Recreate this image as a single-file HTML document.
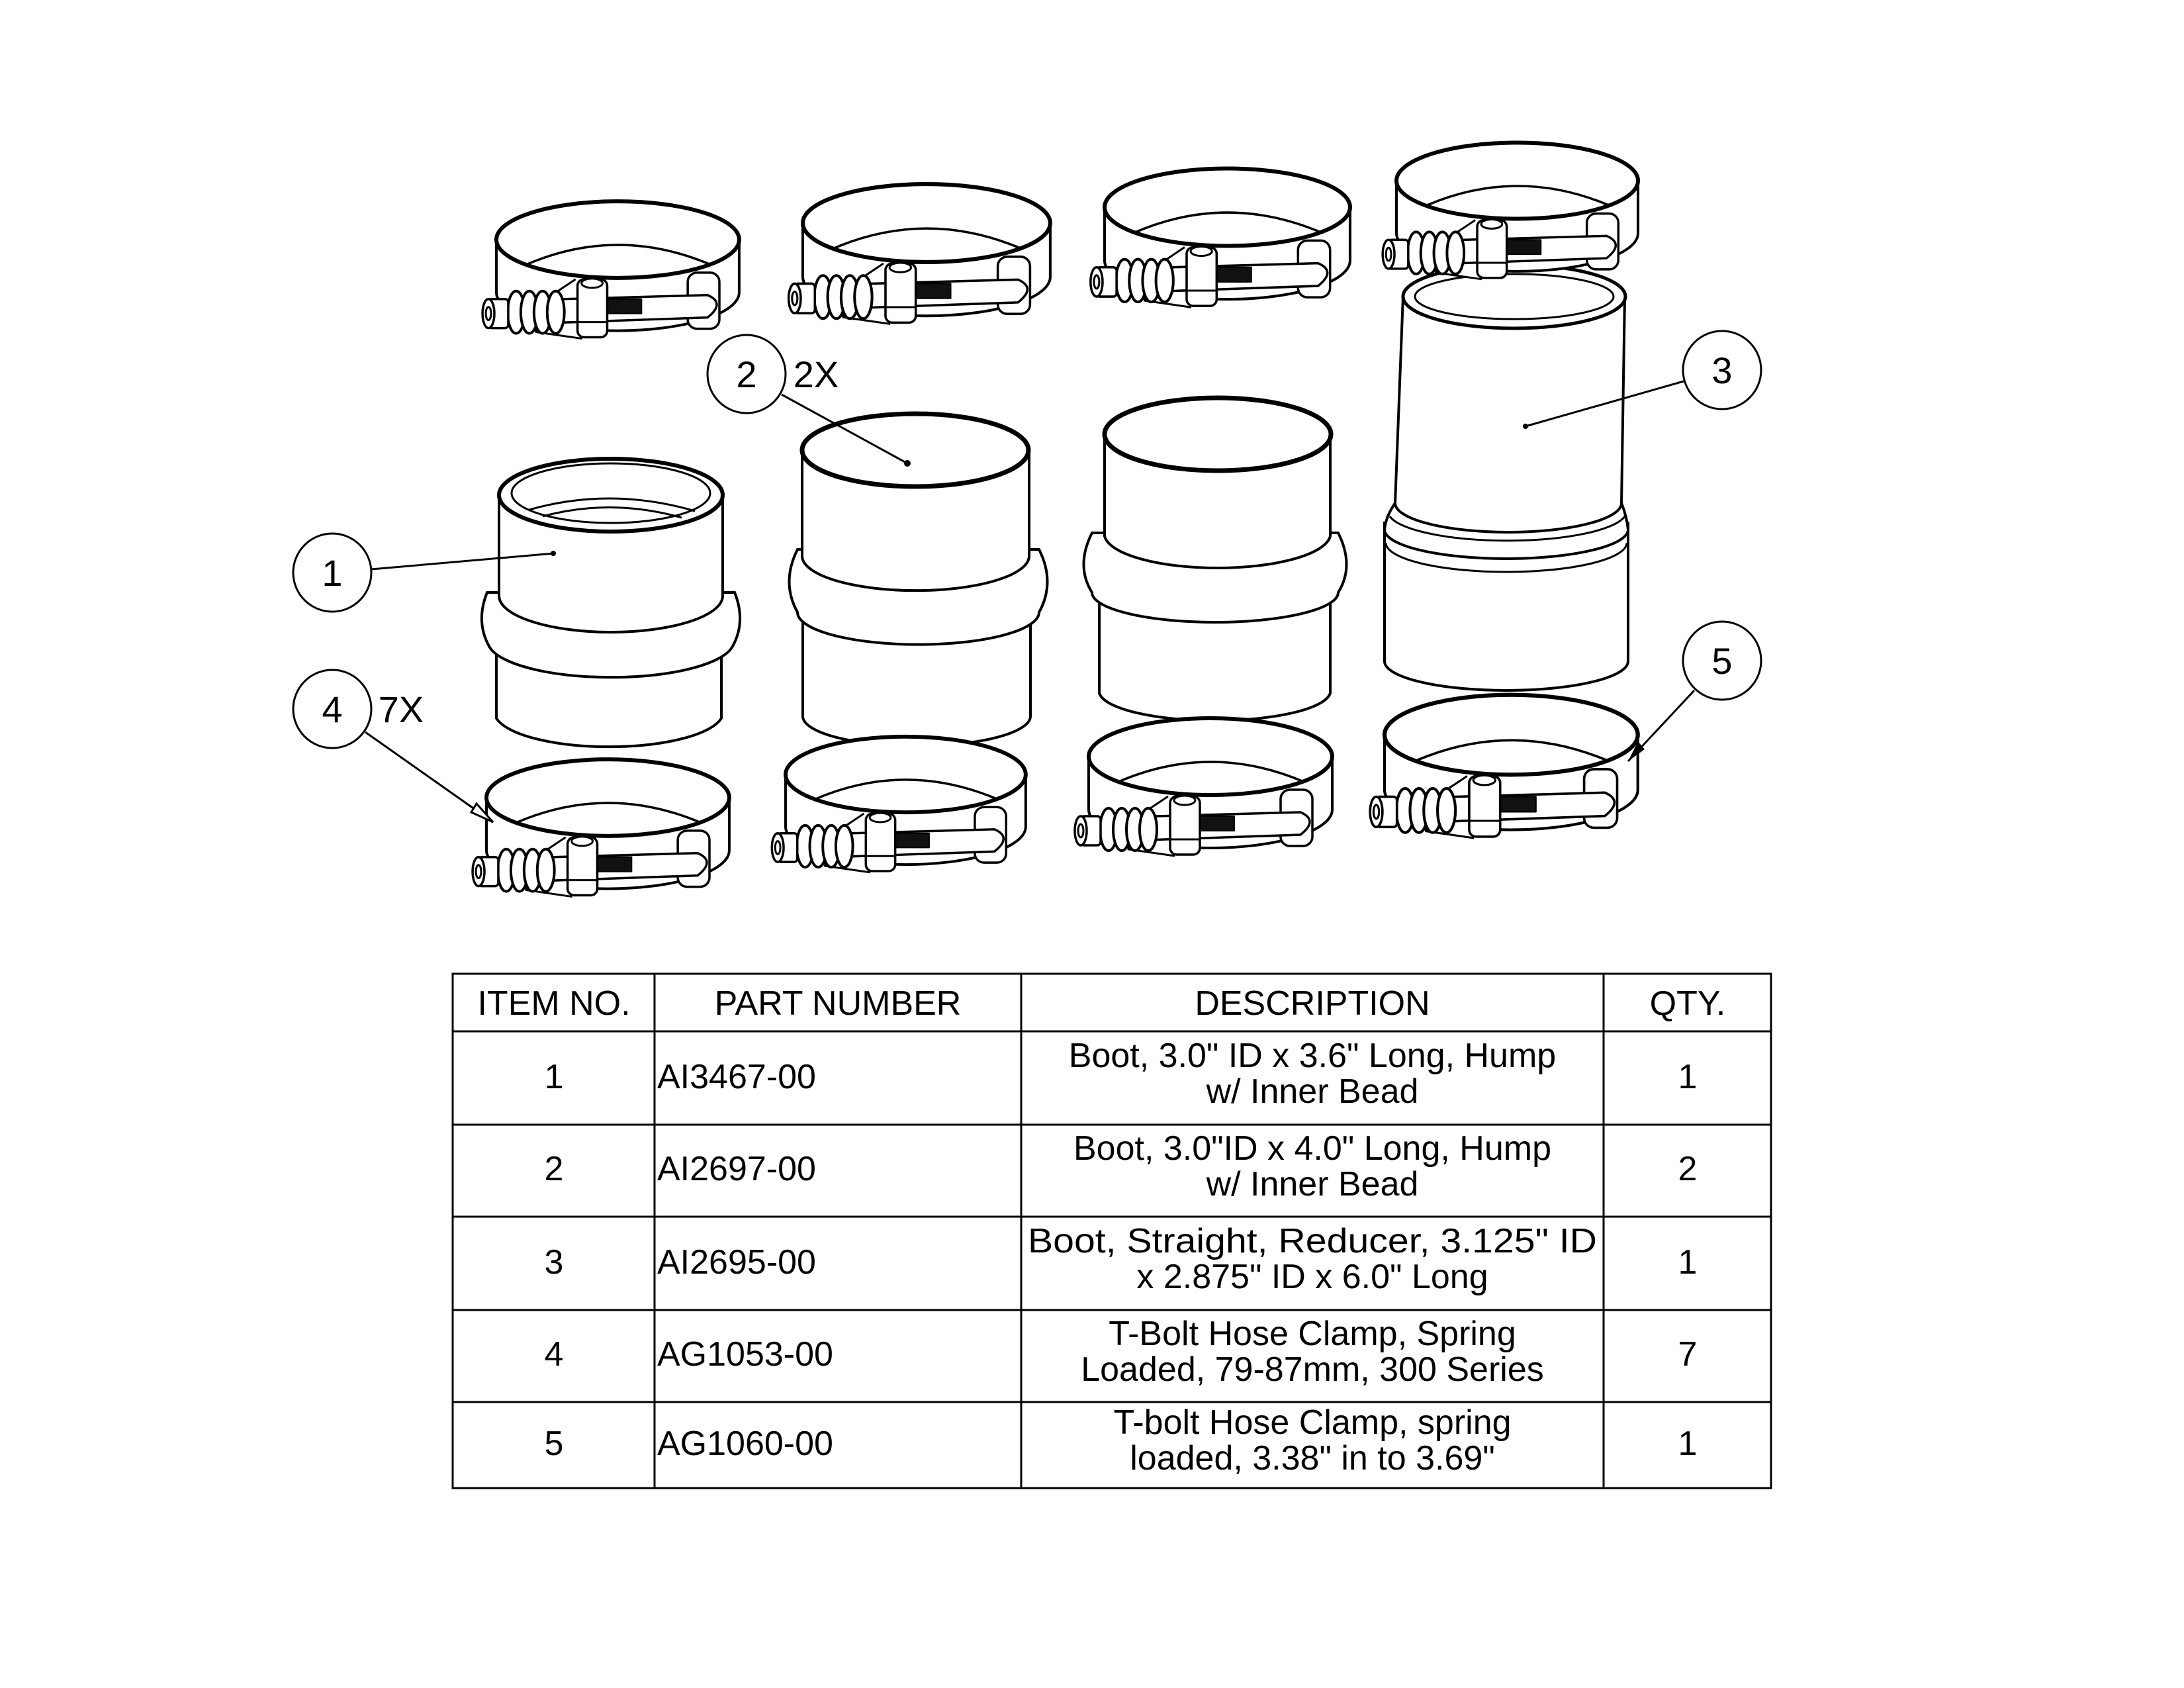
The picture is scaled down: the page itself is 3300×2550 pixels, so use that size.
<!DOCTYPE html>
<html><head><meta charset="utf-8"><style>
html,body{margin:0;padding:0;background:#fff}
svg{display:block}
text{font-family:"Liberation Sans",sans-serif;fill:#000}
</style></head><body>
<svg width="3300" height="2550" viewBox="0 0 3300 2550" xmlns="http://www.w3.org/2000/svg">
<defs>
<g id="clamp" stroke="#000" fill="#fff" stroke-linejoin="round">
  <path d="M0,0 L0,80 A184,58 0 0 0 368,80 L368,0 Z" stroke-width="4"/>
  <ellipse cx="184" cy="0" rx="184" ry="58" stroke-width="6"/>
  <path d="M45,38 Q184,-22 325,38" fill="none" stroke-width="3.5"/>
  <path d="M120,60 L60,100 L60,140 L130,150" stroke-width="3"/>
  <rect x="290" y="50" width="48" height="85" rx="14" stroke-width="3.5"/>
  <path d="M30,92 L320,84 Q348,96 320,118 L30,128 Z" stroke-width="3.5"/>
  <rect x="165" y="90" width="55" height="22" fill="#111" stroke-width="2"/>
  <rect x="123" y="60" width="45" height="88" rx="10" stroke-width="3.5"/>
  <ellipse cx="145" cy="66" rx="16" ry="7" stroke-width="3"/>
  <line x1="123" y1="125" x2="168" y2="125" stroke-width="3"/>
  <ellipse cx="30" cy="110" rx="13" ry="32" stroke-width="4"/>
  <ellipse cx="50" cy="110" rx="13" ry="32" stroke-width="4"/>
  <ellipse cx="70" cy="110" rx="13" ry="32" stroke-width="4"/>
  <ellipse cx="90" cy="110" rx="13" ry="32" stroke-width="4"/>
  <rect x="-12" y="90" width="30" height="44" rx="5" stroke-width="3.5"/>
  <ellipse cx="-12" cy="112" rx="9" ry="22" stroke-width="3.5"/>
  <ellipse cx="-12" cy="112" rx="4" ry="10" stroke-width="3"/>
</g>
</defs>

<g stroke="#000" fill="#fff" stroke-width="4">
<!-- Boot 1 -->
<path d="M750,960 L750,1085 A173,53 0 0 0 1090,1085 L1090,960 Z"/>
<path d="M736,895 Q718,940 740,978 A186,55 0 0 0 1106,978 Q1128,940 1110,895 Z"/>
<path d="M754,748 L754,900 A169,55 0 0 0 1092,900 L1092,748 Z"/>
<ellipse cx="923" cy="748" rx="169" ry="55" stroke-width="6"/>
<ellipse cx="923" cy="745" rx="150" ry="45" stroke-width="3"/>
<path d="M800,770 Q923,735 1050,772" fill="none" stroke-width="3"/>
<path d="M820,780 Q923,752 1030,782" fill="none" stroke-width="3"/>
<!-- Boot 2 -->
<path d="M1213,930 L1213,1082 A172,45 0 0 0 1557,1082 L1557,930 Z"/>
<path d="M1205,830 Q1180,880 1205,925 A180,48 0 0 0 1570,925 Q1595,880 1570,830 Z"/>
<path d="M1212,680 L1212,840 A171,52 0 0 0 1555,840 L1555,680 Z"/>
<ellipse cx="1383" cy="680" rx="171" ry="55" stroke-width="7"/>
<!-- Boot 3 -->
<path d="M1661,900 L1661,1047 A175,45 0 0 0 2010,1047 L2010,900 Z"/>
<path d="M1650,805 Q1625,855 1650,895 A186,45 0 0 0 2022,895 Q2047,855 2022,805 Z"/>
<path d="M1669,656 L1669,810 A171,52 0 0 0 2010,810 L2010,656 Z"/>
<ellipse cx="1840" cy="656" rx="171" ry="55" stroke-width="7"/>
<!-- Boot 4 -->
<path d="M2092,790 L2092,999 A184,44 0 0 0 2460,999 L2460,790 Z"/>
<path d="M2108,760 Q2094,780 2092,800 A184,44 0 0 0 2460,800 Q2458,780 2450,760 Z"/>
<path d="M2100,780 A180,44 0 0 0 2455,780" fill="none" stroke-width="3"/>
<path d="M2094,820 A182,44 0 0 0 2458,820" fill="none" stroke-width="3"/>
<path d="M2120,448 L2108,760 A171,44 0 0 0 2450,760 L2455,448 Z"/>
<ellipse cx="2288" cy="448" rx="168" ry="48" stroke-width="5"/>
<ellipse cx="2288" cy="448" rx="150" ry="34" stroke-width="3"/>
</g>

<!-- clamps -->
<use href="#clamp" transform="translate(750,362) scale(0.997)"/>
<use href="#clamp" transform="translate(1213,337) scale(1.016)"/>
<use href="#clamp" transform="translate(1669,313) scale(1.008)"/>
<use href="#clamp" transform="translate(2110,273) scale(0.992)"/>
<use href="#clamp" transform="translate(735,1205) scale(0.997)"/>
<use href="#clamp" transform="translate(1187,1170) scale(0.986)"/>
<use href="#clamp" transform="translate(1645,1143) scale(1.0)"/>
<use href="#clamp" transform="translate(2092,1110) scale(1.04)"/>

<!-- balloons -->
<g stroke="#000" stroke-width="3" fill="#fff">
<circle cx="502" cy="865" r="59"/>
<circle cx="1128" cy="565" r="59"/>
<circle cx="2602" cy="559" r="59"/>
<circle cx="502" cy="1071" r="59"/>
<circle cx="2602" cy="998" r="59"/>
</g>
<g stroke="#000" stroke-width="3" fill="none">
<line x1="561" y1="860" x2="836" y2="836"/>
<line x1="1181" y1="596" x2="1371" y2="700"/>
<line x1="2544" y1="576" x2="2305" y2="644"/>
<line x1="552" y1="1106" x2="745" y2="1242"/>
<path d="M712,1227 L745,1242 L720,1214 Z" fill="#fff"/>
<line x1="2560" y1="1043" x2="2460" y2="1150"/>
</g>
<path d="M2460,1150 L2475,1120 L2485,1132 Z" fill="#000"/>
<g fill="#000">
<circle cx="836" cy="836" r="4"/><circle cx="1371" cy="700" r="5"/><circle cx="2305" cy="644" r="4"/>
</g>
<g font-size="56" text-anchor="middle">
<text x="502" y="885">1</text>
<text x="1128" y="585">2</text>
<text x="2602" y="579">3</text>
<text x="502" y="1091">4</text>
<text x="2602" y="1018">5</text>
<text x="1233" y="585">2X</text>
<text x="606" y="1091">7X</text>
</g>

<!-- table -->
<g stroke="#000" stroke-width="3" fill="none">
<rect x="684" y="1471" width="1992" height="777"/>
<line x1="684" y1="1558" x2="2676" y2="1558"/>
<line x1="684" y1="1699" x2="2676" y2="1699"/>
<line x1="684" y1="1838" x2="2676" y2="1838"/>
<line x1="684" y1="1979" x2="2676" y2="1979"/>
<line x1="684" y1="2118" x2="2676" y2="2118"/>
<line x1="989" y1="1471" x2="989" y2="2248"/>
<line x1="1543" y1="1471" x2="1543" y2="2248"/>
<line x1="2423" y1="1471" x2="2423" y2="2248"/>
</g>
<g font-size="52">
<g text-anchor="middle">
<text x="837" y="1533">ITEM NO.</text>
<text x="1266" y="1533">PART NUMBER</text>
<text x="1983" y="1533">DESCRIPTION</text>
<text x="2550" y="1533">QTY.</text>
<text x="837" y="1644">1</text><text x="2550" y="1644">1</text>
<text x="837" y="1783">2</text><text x="2550" y="1783">2</text>
<text x="837" y="1924">3</text><text x="2550" y="1924">1</text>
<text x="837" y="2063">4</text><text x="2550" y="2063">7</text>
<text x="837" y="2198">5</text><text x="2550" y="2198">1</text>
<text x="1983" y="1612">Boot, 3.0" ID x 3.6" Long, Hump</text>
<text x="1983" y="1666">w/ Inner Bead</text>
<text x="1983" y="1752">Boot, 3.0"ID x 4.0" Long, Hump</text>
<text x="1983" y="1806">w/ Inner Bead</text>
<text x="1983" y="1892" textLength="860" lengthAdjust="spacingAndGlyphs">Boot, Straight, Reducer, 3.125" ID</text>
<text x="1983" y="1946">x 2.875" ID x 6.0" Long</text>
<text x="1983" y="2032">T-Bolt Hose Clamp, Spring</text>
<text x="1983" y="2086">Loaded, 79-87mm, 300 Series</text>
<text x="1983" y="2166">T-bolt Hose Clamp, spring</text>
<text x="1983" y="2220">loaded, 3.38" in to 3.69"</text>
</g>
<text x="993" y="1644">AI3467-00</text>
<text x="993" y="1783">AI2697-00</text>
<text x="993" y="1924">AI2695-00</text>
<text x="993" y="2063">AG1053-00</text>
<text x="993" y="2198">AG1060-00</text>
</g>
</svg>
</body></html>
